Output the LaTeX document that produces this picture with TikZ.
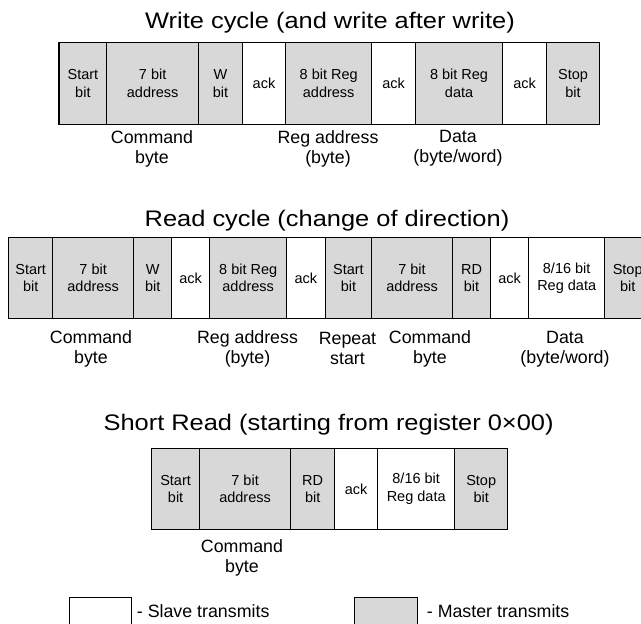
\documentclass[tikz,border=0pt]{standalone}
\usepackage{fontspec}
\setmainfont{Liberation Sans}
\newfontfamily\titlefont[FakeStretch=1.13]{Liberation Sans}
\definecolor{master}{RGB}{216,216,216}
\begin{document}
\begin{tikzpicture}[x=1pt,y=-1pt,
  cell/.style={draw=black, line width=1.4pt, inner sep=0pt, align=center,
    font=\fontsize{14.5}{17.5}\selectfont, anchor=north west},
  mcell/.style={cell, fill=master},
  scell/.style={cell, fill=white},
  wrow/.style={minimum height=82.5pt},
  rrow/.style={minimum height=81.3pt},
  srow/.style={minimum height=81.5pt},
  lbl/.style={align=center, font=\fontsize{17.8}{20}\selectfont, inner sep=0pt},
  ttl/.style={font=\titlefont\fontsize{22.5}{26}\selectfont, inner sep=0pt, anchor=base},
  legtxt/.style={font=\fontsize{17.8}{20}\selectfont, inner sep=0pt, anchor=base west},
  legbox/.style={draw=black, line width=1.4pt, inner sep=0pt, anchor=north west, minimum height=50pt}
]
\useasboundingbox (0,0) rectangle (641,624);
\clip (0,0) rectangle (641,624);

% ---------- Write cycle ----------
\node[ttl] (wtitle) at (330,28.3) {Write cycle (and write after write)};
\node[mcell,wrow,minimum width=47.6pt] (w1) at (58.4,41.5) {Start\\bit};
\node[mcell,wrow,minimum width=92pt]   (w2) at (106,41.5) {7 bit\\address};
\node[mcell,wrow,minimum width=43.6pt] (w3) at (198,41.5) {W\\bit};
\node[scell,wrow,minimum width=43.4pt] (w4) at (241.6,41.5) {ack};
\node[mcell,wrow,minimum width=86pt]   (w5) at (285,41.5) {8 bit Reg\\address};
\node[scell,wrow,minimum width=43.7pt] (w6) at (371,41.5) {ack};
\node[mcell,wrow,minimum width=87.3pt] (w7) at (414.7,41.5) {8 bit Reg\\data};
\node[scell,wrow,minimum width=43.7pt] (w8) at (502,41.5) {ack};
\node[mcell,wrow,minimum width=53.3pt] (w9) at (545.7,41.5) {Stop\\bit};

\node[lbl] (wl1) at (152,148.5) {Command\\byte};
\node[lbl] (wl2) at (328,148.5) {Reg address\\(byte)};
\node[lbl] (wl3) at (458,148.5) {Data\\(byte/word)};

% ---------- Read cycle ----------
\node[ttl] (rtitle) at (327,226) {Read cycle (change of direction)};
\node[mcell,rrow,minimum width=44pt]   (r1)  at (8,236.7) {Start\\bit};
\node[mcell,rrow,minimum width=81pt]   (r2)  at (52,236.7) {7 bit\\address};
\node[mcell,rrow,minimum width=38pt]   (r3)  at (133,236.7) {W\\bit};
\node[scell,rrow,minimum width=38pt]   (r4)  at (171,236.7) {ack};
\node[mcell,rrow,minimum width=77pt]   (r5)  at (209,236.7) {8 bit Reg\\address};
\node[scell,rrow,minimum width=38.5pt] (r6)  at (286,236.7) {ack};
\node[mcell,rrow,minimum width=46.5pt] (r7)  at (324.5,236.7) {Start\\bit};
\node[mcell,rrow,minimum width=80.7pt] (r8)  at (371,236.7) {7 bit\\address};
\node[mcell,rrow,minimum width=38.3pt] (r9)  at (451.7,236.7) {RD\\bit};
\node[scell,rrow,minimum width=38pt]   (r10) at (490,236.7) {ack};
\node[scell,rrow,minimum width=76pt]   (r11) at (528,236.7) {8/16 bit\\Reg data};
\node[mcell,rrow,minimum width=46pt]   (r12) at (604,236.7) {Stop\\bit};

\node[lbl] (rl1) at (91,348.8) {Command\\byte};
\node[lbl] (rl2) at (247.5,348.8) {Reg address\\(byte)};
\node[lbl] (rl3) at (347.5,348.8) {Repeat\\start};
\node[lbl] (rl4) at (430,348.8) {Command\\byte};
\node[lbl] (rl5) at (565,348.8) {Data\\(byte/word)};

% ---------- Short read ----------
\node[ttl] (stitle) at (328.6,430.7) {Short Read (starting from register 0×00)};
\node[mcell,srow,minimum width=47.8pt] (s1) at (151,447.5) {Start\\bit};
\node[mcell,srow,minimum width=91.2pt] (s2) at (198.8,447.5) {7 bit\\address};
\node[mcell,srow,minimum width=44pt]   (s3) at (290,447.5) {RD\\bit};
\node[scell,srow,minimum width=43pt]   (s4) at (334,447.5) {ack};
\node[scell,srow,minimum width=77pt]   (s5) at (377,447.5) {8/16 bit\\Reg data};
\node[mcell,srow,minimum width=53pt]   (s6) at (454,447.5) {Stop\\bit};

\node[lbl] (sl1) at (242,558) {Command\\byte};

% ---------- Legend ----------
\node[legbox,fill=white,minimum width=62pt]  (slave)  at (69,597) {};
\node[legtxt] (slavetxt) at (136.7,617.3) {- Slave transmits};
\node[legbox,fill=master,minimum width=63pt] (master) at (354,597) {};
\node[legtxt] (mastertxt) at (426.7,617.3) {- Master transmits};
\end{tikzpicture}
\end{document}
